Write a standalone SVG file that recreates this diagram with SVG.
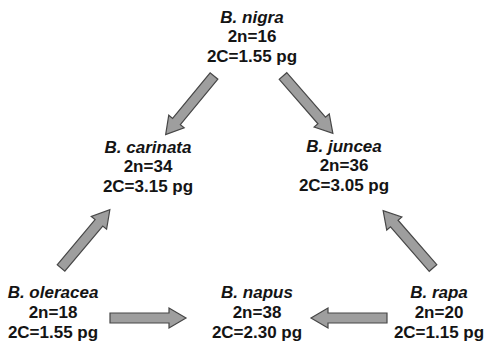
<svg xmlns="http://www.w3.org/2000/svg" xmlns:xlink="http://www.w3.org/1999/xlink" width="492" height="350" viewBox="0 0 492 350">
<style>
text{font-family:"Liberation Sans",Arial,sans-serif;font-weight:bold;font-size:17px;fill:#141414;text-anchor:middle}
.sp{font-style:italic}
.arr{fill:#9e9e9e;stroke:#474747;stroke-width:1.2;stroke-linejoin:miter}
</style>
<defs>
<path id="ba" class="arr" d="M0,-5 L59,-5 L59,-10 L76,0 L59,10 L59,5 L0,5 Z"/>
</defs>
<rect width="492" height="350" fill="#fff"/>
<g id="connectors">
<use xlink:href="#ba" href="#ba" transform="translate(214,76) rotate(129.5)"/>
<use xlink:href="#ba" href="#ba" transform="translate(283,76) rotate(49)"/>
<use xlink:href="#ba" href="#ba" transform="translate(61,268) rotate(-50)"/>
<use xlink:href="#ba" href="#ba" transform="translate(433,268) rotate(-131)"/>
<use xlink:href="#ba" href="#ba" transform="translate(110,318) rotate(0)"/>
<use xlink:href="#ba" href="#ba" transform="translate(387,318) rotate(180)"/>
</g>
<g id="nigra"><text x="252" y="23" class="sp">B. nigra</text><text x="252" y="42">2n=16</text><text x="252" y="62">2C=1.55 pg</text></g>
<g id="carinata"><text x="148" y="153" class="sp">B. carinata</text><text x="148" y="172">2n=34</text><text x="148" y="192">2C=3.15 pg</text></g>
<g id="juncea"><text x="344" y="152" class="sp">B. juncea</text><text x="344" y="171">2n=36</text><text x="344" y="191">2C=3.05 pg</text></g>
<g id="oleracea"><text x="53" y="298" class="sp">B. oleracea</text><text x="53" y="318">2n=18</text><text x="53" y="338">2C=1.55 pg</text></g>
<g id="napus"><text x="257" y="298" class="sp">B. napus</text><text x="257" y="318">2n=38</text><text x="257" y="338">2C=2.30 pg</text></g>
<g id="rapa"><text x="439" y="298" class="sp">B. rapa</text><text x="439" y="318">2n=20</text><text x="439" y="338">2C=1.15 pg</text></g>
</svg>
